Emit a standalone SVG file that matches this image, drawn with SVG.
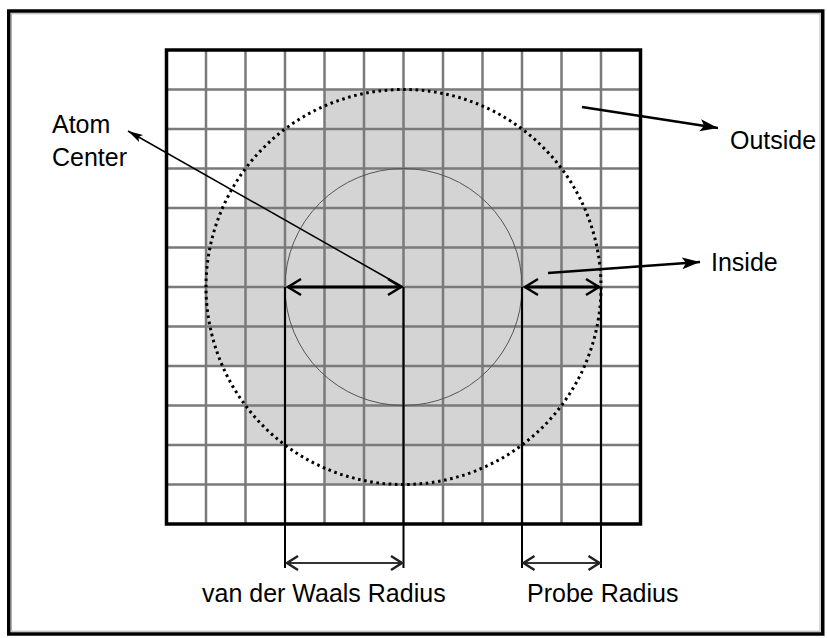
<svg xmlns="http://www.w3.org/2000/svg" width="827" height="638" viewBox="0 0 827 638">
<defs>
<style>
.lbl{font-family:"Liberation Sans",Arial,sans-serif;font-size:25px;fill:#000}
.grid{fill:none;stroke:#7a7a7a;stroke-width:2.5}
.dim{fill:none;stroke:#000;stroke-width:2}
.ptr{fill:none;stroke:#000}
</style>
<marker id="chev" markerUnits="userSpaceOnUse" markerWidth="20" markerHeight="20" viewBox="0 0 20 20" refX="16" refY="10" orient="auto-start-reverse">
<path d="M3,2 L16,10 L3,18" fill="none" stroke="#000" stroke-width="2.5"/>
</marker>
<marker id="chevB" markerUnits="userSpaceOnUse" markerWidth="20" markerHeight="20" viewBox="0 0 20 20" refX="16" refY="10" orient="auto-start-reverse">
<path d="M5,3 L16,10 L5,17" fill="none" stroke="#222" stroke-width="2.5"/>
</marker>
<marker id="tri" markerUnits="userSpaceOnUse" markerWidth="20" markerHeight="14" viewBox="0 0 20 14" refX="18" refY="7" orient="auto">
<path d="M0,1 L18,7 L0,13 L4,7 Z" fill="#000"/>
</marker>
<marker id="triS" markerUnits="userSpaceOnUse" markerWidth="16" markerHeight="10" viewBox="0 0 16 10" refX="15" refY="5" orient="auto">
<path d="M0,1 L15,5 L0,9 L3,5 Z" fill="#000"/>
</marker>
</defs>
<rect x="0" y="0" width="827" height="638" fill="#fff"/>
<rect x="8.75" y="11" width="814" height="623" fill="none" stroke="#000" stroke-width="3.5"/>
<rect x="11.5" y="13.75" width="808.5" height="617.5" fill="none" stroke="#b0b0b0" stroke-width="1"/>

<g id="grid">
<path d="M324.5,89.5 H482.5 V129 H561.5 V208 H601 V366 H561.5 V445 H482.5 V484.5 H324.5 V445 H245.5 V366 H206 V208 H245.5 V129 H324.5 Z" fill="#d4d4d4"/>
<path class="grid" d="M206,50V524 M245.5,50V524 M285,50V524 M324.5,50V524 M364,50V524 M403.5,50V524 M443,50V524 M482.5,50V524 M522,50V524 M561.5,50V524 M601,50V524 M166.5,89.5H640.5 M166.5,129H640.5 M166.5,168.5H640.5 M166.5,208H640.5 M166.5,247.5H640.5 M166.5,287H640.5 M166.5,326.5H640.5 M166.5,366H640.5 M166.5,405.5H640.5 M166.5,445H640.5 M166.5,484.5H640.5"/>
<rect x="166.5" y="50" width="474" height="474" fill="none" stroke="#000" stroke-width="3.5"/>
</g>

<g id="circles">
<circle cx="403.5" cy="287" r="118.5" fill="none" stroke="#555" stroke-width="1"/>
<circle cx="403.5" cy="287" r="197.5" fill="none" stroke="#000" stroke-width="3" stroke-dasharray="2.6 3.6"/>
</g>

<g id="connectors">
<path class="dim" d="M285,287V568 M403.5,287V568 M522,287V568 M601,287V568"/>
<line x1="288" y1="287" x2="401" y2="287" stroke="#000" stroke-width="3" marker-start="url(#chev)" marker-end="url(#chev)"/>
<line x1="525" y1="287" x2="599" y2="287" stroke="#000" stroke-width="3" marker-start="url(#chev)" marker-end="url(#chev)"/>
<line x1="287" y1="563" x2="402" y2="563" stroke="#333" stroke-width="2.2" marker-start="url(#chevB)" marker-end="url(#chevB)"/>
<line x1="523.5" y1="563" x2="599.5" y2="563" stroke="#333" stroke-width="2.2" marker-start="url(#chevB)" marker-end="url(#chevB)"/>
<line class="ptr" x1="403" y1="287" x2="128" y2="131" stroke-width="1.5" marker-end="url(#triS)"/>
<line class="ptr" x1="582" y1="107" x2="718" y2="128" stroke-width="2.5" marker-end="url(#tri)"/>
<line class="ptr" x1="548" y1="273" x2="700" y2="262" stroke-width="2.5" marker-end="url(#tri)"/>
</g>

<g id="label-atom-center">
<text class="lbl" x="52" y="133">Atom</text>
<text class="lbl" x="52" y="166">Center</text>
</g>
<g id="label-outside"><text class="lbl" x="730" y="149">Outside</text></g>
<g id="label-inside"><text class="lbl" x="711" y="271">Inside</text></g>
<g id="label-vdw"><text class="lbl" x="202" y="602">van der Waals Radius</text></g>
<g id="label-probe"><text class="lbl" x="527" y="602">Probe Radius</text></g>
</svg>
